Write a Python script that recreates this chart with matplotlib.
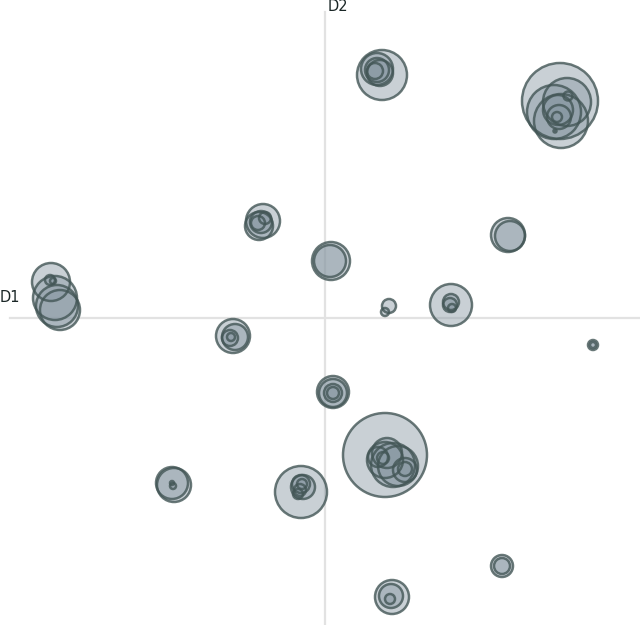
import matplotlib
matplotlib.use('Agg')
import matplotlib.pyplot as plt
from matplotlib.patches import Circle

# one entry per circle: position on D1/D2 and radius (same units)
d1 = [0.57, 0.52, 0.52, 0.50, 0.55,
      2.35, 2.36, 2.29, 2.42, 2.33, 2.34, 2.32, 2.43, 2.30,
      -0.62, -0.66, -0.64, -0.67, -0.60,
      0.06, 0.05,
      -2.74, -2.75, -2.72, -2.70, -2.68, -2.65,
      -0.92, -0.90, -0.95, -0.94,
      0.64, 0.60,
      1.26, 1.25, 1.26, 1.27,
      1.83, 1.85,
      2.68, 2.68,
      0.08, 0.08, 0.08, 0.08,
      -1.51, -1.53, -1.52, -1.53,
      -0.24, -0.22, -0.24, -0.25, -0.27, -0.23,
      0.60, 0.68, 0.73, 0.60, 0.62, 0.53, 0.80, 0.80, 0.58,
      1.77, 1.77,
      0.67, 0.66, 0.65]
d2 = [2.43, 2.49, 2.48, 2.47, 2.45,
      2.17, 1.97, 2.06, 2.16, 2.08, 2.01, 2.01, 2.22, 1.87,
      0.97, 0.92, 0.96, 0.95, 1.00,
      0.57, 0.57,
      0.36, 0.38, 0.37, 0.20, 0.12, 0.08,
      -0.18, -0.19, -0.20, -0.19,
      0.12, 0.06,
      0.13, 0.13, 0.16, 0.10,
      0.83, 0.82,
      -0.27, -0.27,
      -0.74, -0.75, -0.75, -0.75,
      -1.67, -1.65, -1.68, -1.65,
      -1.74, -1.69, -1.66, -1.72, -1.76, -1.66,
      -1.37, -1.47, -1.48, -1.42, -1.35, -1.39, -1.52, -1.51, -1.40,
      -2.48, -2.48,
      -2.79, -2.78, -2.81]
size = [0.25, 0.16, 0.12, 0.08, 0.13,
        0.38, 0.27, 0.27, 0.24, 0.15, 0.12, 0.05, 0.045, 0.015,
        0.17, 0.14, 0.11, 0.07, 0.06,
        0.19, 0.16,
        0.19, 0.05, 0.03, 0.22, 0.21, 0.20,
        0.17, 0.13, 0.08, 0.04,
        0.07, 0.04,
        0.21, 0.07, 0.08, 0.04,
        0.17, 0.15,
        0.05, 0.03,
        0.16, 0.14, 0.09, 0.06,
        0.17, 0.16, 0.03, 0.02,
        0.26, 0.12, 0.09, 0.06, 0.05, 0.05,
        0.42, 0.22, 0.20, 0.18, 0.15, 0.10, 0.12, 0.07, 0.06,
        0.11, 0.08,
        0.17, 0.12, 0.05]

fig = plt.figure(figsize=(6.4, 6.25), dpi=100)
ax = fig.add_axes([0, 0, 1, 1])
ax.set_xlim(-3.25, 3.15)
ax.set_ylim(-3.07, 3.18)
ax.set_aspect('equal')
ax.axis('off')

# axis lines
ax.plot([-3.15, 3.15], [0, 0], color='#e2e2e2', lw=1.6, zorder=0)
ax.plot([0, 0], [-3.07, 3.06], color='#e2e2e2', lw=1.6, zorder=0)
ax.text(-3.25, 0.13, 'D1', fontsize=10.5, color='#1a2626', ha='left', va='bottom')
ax.text(0.03, 3.19, 'D2', fontsize=10.5, color='#1a2626', ha='left', va='top')

for x, y, r in zip(d1, d2, size):
    ax.add_patch(Circle((x, y), r, facecolor='#8898a2', alpha=0.45,
                        edgecolor='none', zorder=2))
    ax.add_patch(Circle((x, y), r, facecolor='none', edgecolor='#435656',
                        alpha=0.8, lw=1.8, zorder=3))

plt.savefig('out.png', dpi=100)
